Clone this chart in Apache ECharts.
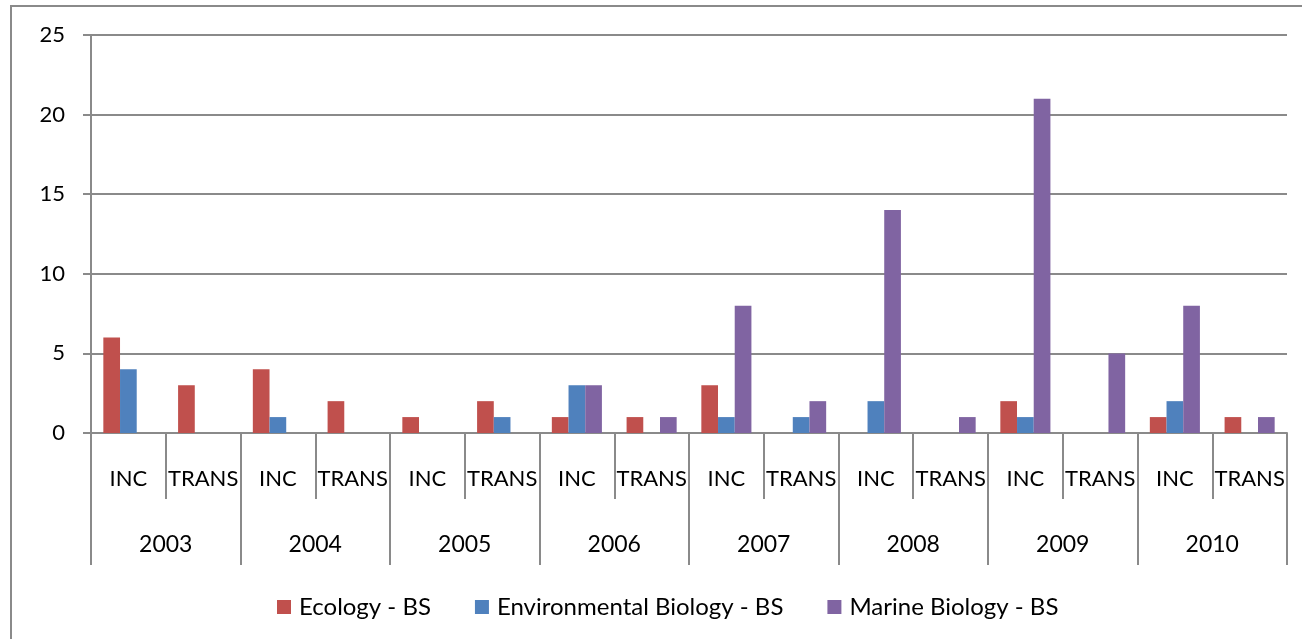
<!DOCTYPE html>
<html>
<head>
<meta charset="utf-8">
<script src="https://cdn.jsdelivr.net/npm/echarts@6/dist/echarts.min.js"></script>
<style>
  html, body { margin: 0; padding: 0; background: #fff; }
  #main { width: 1302px; height: 639px; }
</style>
</head>
<body>
<div id="main"></div>
<script>
// categories
var years = ['2003', '2004', '2005', '2006', '2007', '2008', '2009', '2010'];
var kinds = ['INC', 'TRANS'];
var yTicks = [0, 5, 10, 15, 20, 25];

// series values, one per INC/TRANS column (2003 INC, 2003 TRANS, 2004 INC ...)
var ecology       = [6, 3, 4, 2, 1, 2, 1, 1, 3, 0, 0, 0, 2, 0, 1, 1];
var envBiology    = [4, 0, 1, 0, 0, 1, 3, 0, 1, 1, 2, 0, 1, 0, 2, 0];
var marineBiology = [0, 0, 0, 0, 0, 0, 3, 1, 8, 2, 14, 1, 21, 5, 8, 1];

var seriesNames = ['Ecology - BS', 'Environmental Biology - BS', 'Marine Biology - BS'];
var colors = ['#C0504D', '#4F81BD', '#8064A2'];

var cats = [];
years.forEach(function () {
    kinds.forEach(function (k) { cats.push(k); });
});

var chartInit = function () {
    var chartDom = document.getElementById('main');
    var myChart = echarts.init(chartDom);
    var font = 'Lato, "Open Sans", sans-serif';
    var gray = '#8a8a8a';
    var fs = 22;
    var option = {
        animation: false,
        textStyle: { fontFamily: font },
        graphic: [{
            // chart area border (Excel style)
            type: 'rect',
            shape: { x: 11, y: 6, width: 1400, height: 800 },
            style: { fill: 'none', stroke: gray, lineWidth: 2 },
            silent: true
        }],
        legend: {
            left: 272,
            top: 590,
            itemWidth: 14,
            itemHeight: 14,
            itemGap: 44,
            icon: 'rect',
            textStyle: { fontSize: 24, color: '#000', fontFamily: font, padding: [0, 0, 0, 3] },
            data: seriesNames
        },
        grid: {
            left: 91,
            right: 15,
            top: 35,
            bottom: 206
        },
        xAxis: [{
            type: 'category',
            data: cats,
            position: 'bottom',
            axisLine: { show: true, lineStyle: { color: gray, width: 2 } },
            axisTick: { show: true, interval: 0, length: 66, lineStyle: { color: gray, width: 2 } },
            axisLabel: { interval: 0, margin: 35, fontSize: fs, color: '#000', fontFamily: font },
            splitLine: { show: false }
        }, {
            // second level: years
            type: 'category',
            data: years,
            position: 'bottom',
            axisLine: { show: false },
            axisTick: { show: true, interval: 0, length: 132, lineStyle: { color: gray, width: 2 } },
            axisLabel: { interval: 0, margin: 100, fontSize: 23, color: '#000', fontFamily: font },
            splitLine: { show: false }
        }],
        yAxis: {
            type: 'value',
            min: yTicks[0],
            max: yTicks[yTicks.length - 1],
            interval: 5,
            axisLine: { show: true, lineStyle: { color: gray, width: 2 } },
            axisTick: { show: true, length: 8, lineStyle: { color: gray, width: 2 } },
            axisLabel: { margin: 26, fontSize: fs, color: '#000', fontFamily: font },
            splitLine: { show: true, lineStyle: { color: gray, width: 2 } }
        },
        series: [ecology, envBiology, marineBiology].map(function (vals, i) {
            return {
                name: seriesNames[i],
                type: 'bar',
                xAxisIndex: 0,
                data: vals,
                barGap: '0%',
                barCategoryGap: '33%',
                itemStyle: { color: colors[i] }
            };
        })
    };
    option && myChart.setOption(option);
    window.addEventListener('resize', function () {
        myChart.resize();
    });
};
chartInit();
</script>
</body>
</html>
